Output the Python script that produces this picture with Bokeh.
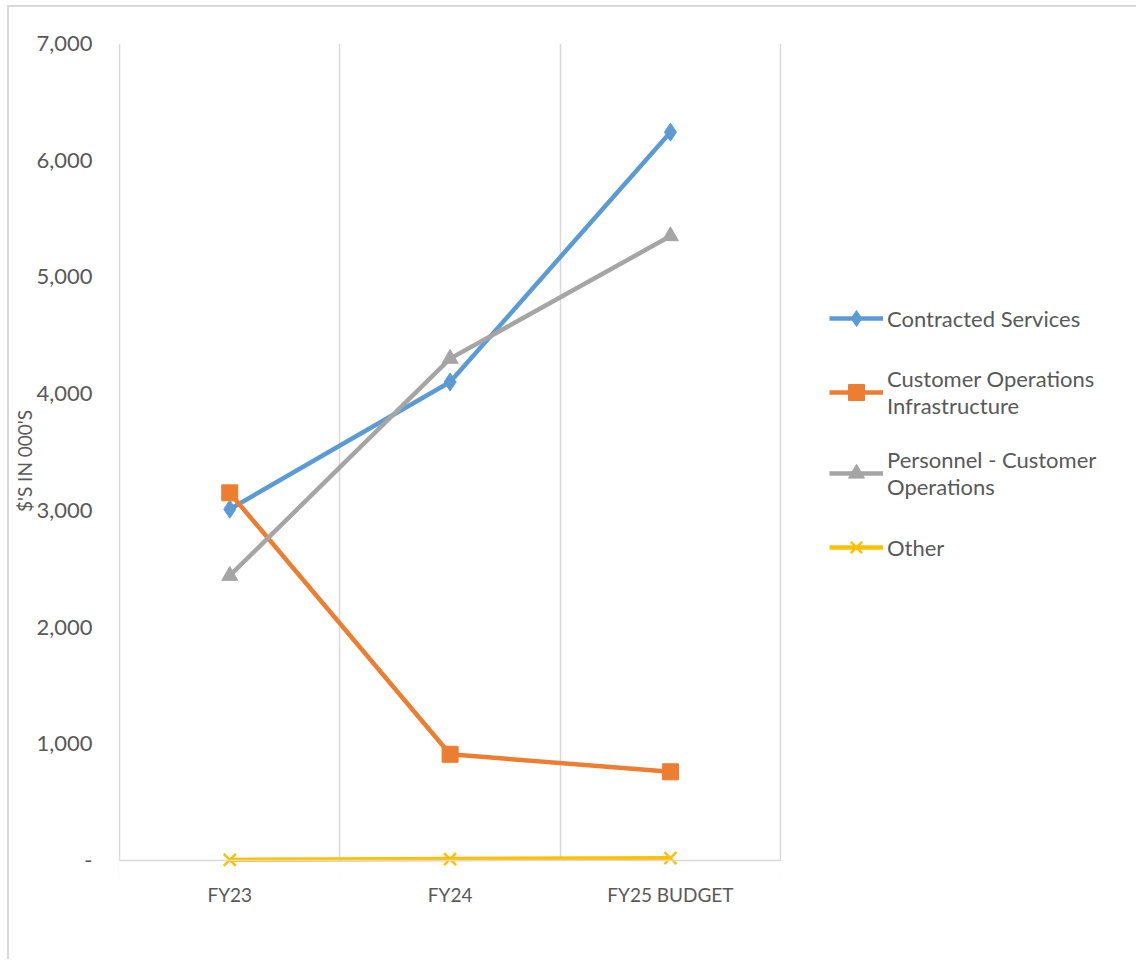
from bokeh.plotting import figure
from bokeh.models import (Range1d, FixedTicker, CustomJSTickFormatter, Legend,
                          LegendItem, BoxAnnotation, LinearAxis)
from bokeh.embed import file_html
from bokeh.resources import INLINE

# ---- data ----
categories = ["FY23", "FY24", "FY25 BUDGET"]
contracted_services = [3010, 4100, 6240]
customer_ops_infrastructure = [3150, 910, 760]
personnel_customer_ops = [2440, 4300, 5350]
other = [5, 12, 20]
y_ticks = [0, 1000, 2000, 3000, 4000, 5000, 6000, 7000]

series_names = [
    "Contracted Services",
    "Customer Operations\nInfrastructure",
    "Personnel - Customer\nOperations",
    "Other",
]

x = list(range(1, len(categories) + 1))
FONT = "Lato"
TXT = "#595959"
GRID = "#D9D9D9"

# layout: plotting area of the categories is 661 px wide, the frame continues
# to the right to host the legend (1020 px frame); a small strip below zero
# keeps the markers on the zero line unclipped.
n = len(categories)
cat_px = 661.0
frame_px = 1020.0
x_start = 0.495
x_end = x_start + n * frame_px / cat_px
y_max = 7000
y_px = 817.0
strip_px = 18.0
y_start = -strip_px * y_max / y_px

p = figure(
    width=1129, height=954,
    x_range=Range1d(x_start, x_end),
    y_range=Range1d(y_start, y_max),
    output_backend="svg", toolbar_location=None,
    min_border_left=109, min_border_right=0,
    min_border_top=36, min_border_bottom=83,
)
p.styles = {
    "margin-left": "7px", "margin-top": "5px",
    "border-left": "2px solid #D9D9D9", "border-top": "2px solid #D9D9D9",
}
p.outline_line_color = None
p.background_fill_color = "white"
p.border_fill_color = "white"

# y axis
p.yaxis.ticker = FixedTicker(ticks=y_ticks)
p.yaxis.formatter = CustomJSTickFormatter(
    code="return tick == 0 ? '-' : tick.toLocaleString('en-US');")
p.yaxis.axis_line_color = None
p.yaxis.major_tick_line_color = None
p.yaxis.major_tick_out = 0
p.yaxis.major_tick_in = 0
p.yaxis.minor_tick_line_color = None
p.yaxis.minor_tick_out = 0
p.yaxis.major_label_standoff = 26
p.yaxis.major_label_text_font = FONT
p.yaxis.major_label_text_font_size = "22px"
p.yaxis.major_label_text_color = TXT
p.yaxis.axis_label = "$'S IN 000'S"
p.yaxis.axis_label_text_font = FONT
p.yaxis.axis_label_text_font_size = "19px"
p.yaxis.axis_label_text_font_style = "normal"
p.yaxis.axis_label_text_color = TXT
p.yaxis.axis_label_standoff = -3
p.ygrid.grid_line_color = None

# x axis labels (at the frame bottom, no line)
p.xaxis.ticker = FixedTicker(ticks=x)
p.xaxis.major_label_overrides = {i: c for i, c in zip(x, categories)}
p.xaxis.axis_line_color = None
p.xaxis.major_tick_line_color = None
p.xaxis.major_tick_out = 0
p.xaxis.major_tick_in = 0
p.xaxis.minor_tick_line_color = None
p.xaxis.minor_tick_out = 0
p.xaxis.major_label_standoff = 4
p.xaxis.major_label_text_font = FONT
p.xaxis.major_label_text_font_size = "19px"
p.xaxis.major_label_text_color = TXT

# category axis line drawn on the zero line
zero_axis = LinearAxis(
    fixed_location=0, bounds=(0.5, n + 0.5), ticker=FixedTicker(ticks=[]),
    axis_line_color=GRID, axis_line_width=1.5,
    major_tick_out=0, major_tick_in=0, minor_tick_out=0, minor_tick_in=0,
    major_label_text_font_size="0px",
)
p.add_layout(zero_axis, "below")

p.xgrid.ticker = FixedTicker(ticks=[i - 0.5 for i in range(1, n + 2)])
p.xgrid.grid_line_color = GRID
p.xgrid.grid_line_width = 1.5

# white strip below zero hides the grid lines there
p.add_layout(BoxAnnotation(top=0, fill_color="white", fill_alpha=1,
                           line_color=None, level="underlay"))

styles = [
    ("#5B9BD5", "diamond", 18),
    ("#ED7D31", "square", 16),
    ("#A5A5A5", "triangle", 16),
    ("#FFC000", "x", 17),
]
data = [contracted_services, customer_ops_infrastructure, personnel_customer_ops, other]

items = []
for name, vals, (col, mk, sz) in zip(series_names, data, styles):
    l = p.line(x, vals, line_color=col, line_width=4.5)
    s = p.scatter(x, vals, marker=mk, size=sz, fill_color=col, line_color=col,
                  line_width=2.5 if mk == "x" else 1)
    items.append(LegendItem(label=name, renderers=[l, s]))

legend = Legend(items=items, location=(711, 293 + strip_px))
legend.border_line_color = None
legend.background_fill_alpha = 0
legend.padding = 0
legend.margin = 0
legend.spacing = 27
legend.glyph_width = 54
legend.glyph_height = 40
legend.label_standoff = 4
legend.label_text_font = FONT
legend.label_text_font_size = "22px"
legend.label_text_color = TXT
p.add_layout(legend, "center")

open("out.html", "w").write(file_html(p, INLINE))
